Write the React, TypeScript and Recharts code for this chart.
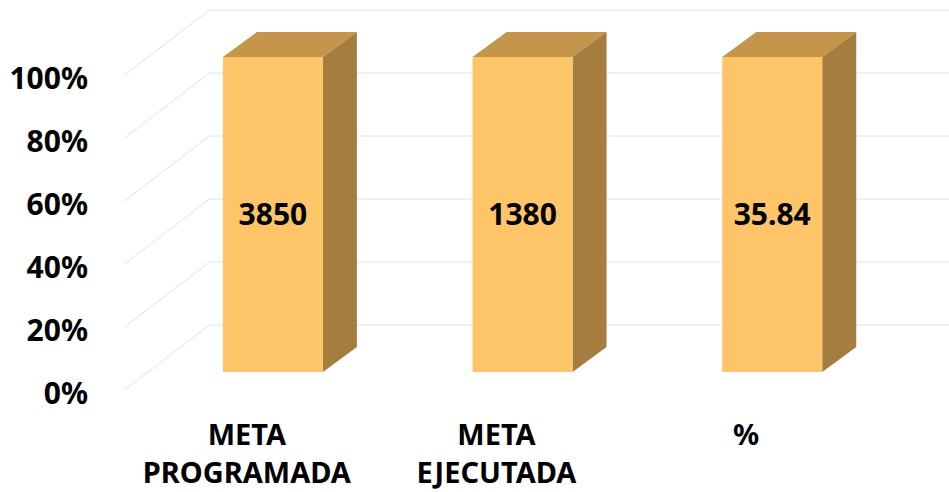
import React from "react";
import { BarChart, Bar, XAxis, YAxis, CartesianGrid, LabelList } from "recharts";

const categories: string[][] = [["META", "PROGRAMADA"], ["META", "EJECUTADA"], ["%"]];
const values: number[] = [3850, 1380, 35.84];
const yTicks: number[] = [0, 0.2, 0.4, 0.6, 0.8, 1];

const data = categories.map((c, i) => ({ name: c.join(" "), lines: c, value: values[i] }));

const FONT = "'Noto Sans', 'Open Sans', sans-serif";
const DX = 34;
const DY = 25;
const FRONT_DX = 23.5;
const FRONT_DY = 18;
const BACK_DX = 61.5;
const BACK_DY = 47;
const GRID = "#e2e2e2";

const Box3D = (props: any) => {
  const { x, y, width, height } = props;
  if (width == null || height == null) return null;
  return (
    <g>
      <polygon
        points={`${x},${y} ${x + DX},${y - DY} ${x + width + DX},${y - DY} ${x + width},${y}`}
        fill="#c4954a"
      />
      <polygon
        points={`${x + width},${y} ${x + width + DX},${y - DY} ${x + width + DX},${y + height - DY} ${x + width},${y + height}`}
        fill="#a57d3f"
      />
      <rect x={x} y={y} width={width} height={height} fill="#fdc567" />
    </g>
  );
};

const gridLine = (p: any) => {
  const { x1, y1 } = p;
  return (
    <g key={`g-${y1}`}>
      <line x1={x1 - FRONT_DX} y1={y1 + FRONT_DY} x2={x1 + BACK_DX} y2={y1 - BACK_DY} stroke={GRID} strokeWidth={1} />
      <line x1={x1 + BACK_DX} y1={y1 - BACK_DY} x2={949} y2={y1 - BACK_DY} stroke={GRID} strokeWidth={1} />
    </g>
  );
};

const YTick = (props: any) => {
  const { x, y, payload } = props;
  return (
    <text x={x - 60} y={y + 20} textAnchor="end" dominantBaseline="central" fontFamily={FONT} fontWeight={700} fontSize={30} fill="#000">
      {`${Math.round(payload.value * 100)}%`}
    </text>
  );
};

const XTick = (props: any) => {
  const { x, y, index } = props;
  const lines = categories[index] || [];
  return (
    <g>
      {lines.map((l, i) => (
        <text key={i} x={x - 26} y={y + 73 + i * 38} textAnchor="middle" fontFamily={FONT} fontWeight={700} fontSize={29} fill="#000">
          {l}
        </text>
      ))}
    </g>
  );
};

export default function App() {
  return (
    <div style={{ position: "absolute", left: 0, top: 0, width: 949, height: 492, background: "#fff" }}>
      <BarChart
        width={949}
        height={492}
        data={data}
        stackOffset="expand"
        margin={{ top: 57, right: 52, bottom: 0, left: 0 }}
        barCategoryGap="30%"
      >
        <CartesianGrid vertical={false} horizontal={gridLine} />
        <XAxis dataKey="name" height={120} axisLine={false} tickLine={false} tickSize={0} tickMargin={0} tick={<XTick />} interval={0} />
        <YAxis width={148} domain={[0, 1]} ticks={yTicks} axisLine={false} tickLine={false} tickSize={0} tickMargin={0} tick={<YTick />} />
        <Bar dataKey="value" stackId="a" shape={<Box3D />} isAnimationActive={false}>
          <LabelList dataKey="value" position="center" fill="#000" fontFamily={FONT} fontWeight={700} fontSize={30} />
        </Bar>
      </BarChart>
    </div>
  );
}
